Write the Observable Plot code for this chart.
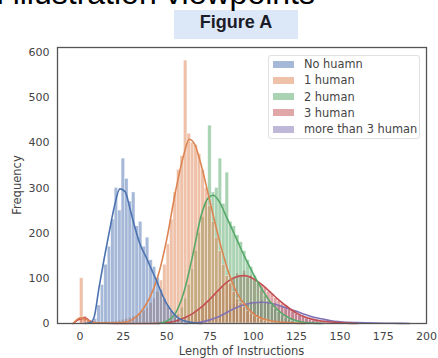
<!DOCTYPE html>
<html>
<head>
<meta charset="utf-8">
<script src="https://cdn.jsdelivr.net/npm/d3@7"></script>
<script src="https://cdn.jsdelivr.net/npm/@observablehq/plot@0.6"></script>
<style>
  html, body { margin: 0; padding: 0; background: #fff; }
  #wrap { position: relative; width: 438px; height: 358px; overflow: hidden; font-family: "DejaVu Sans", sans-serif; }
  #wrap svg { position: absolute; left: 0; top: 0; }
  .ov { position: absolute; white-space: nowrap; }
  #toptext { right: 123px; top: -23px; font: 32px/1 "Liberation Sans", Arial, sans-serif; color: #000; z-index: 2; }
  #fig { left: 174px; top: 10px; width: 124px; height: 29px; background: #dce8f7; font: bold 18px/25px "Liberation Sans", Arial, sans-serif; color: #1c1c28; text-align: center; z-index: 1; }
  #xlabel { left: 57px; width: 369px; top: 344px; text-align: center; font-size: 11.5px; color: #444; }
  #ylabel { left: 17px; top: 185px; transform: translate(-50%, -50%) rotate(-90deg); font-size: 11.5px; color: #444; }
  #legend { left: 268px; top: 55px; width: 150px; height: 82px; border: 1px solid #e0e0e0; border-radius: 3px; background: rgba(255,255,255,0.85); font-size: 11.4px; color: #444; }
  .row { position: absolute; left: 4px; height: 16px; display: flex; align-items: center; }
  .sw { width: 21px; height: 7px; margin-right: 10px; box-sizing: border-box; }
</style>
</head>
<body>
<div id="wrap">
  <div id="chart"></div>
  <div class="ov" id="fig">Figure A</div>
  <div class="ov" id="toptext">and illustration viewpoints</div>
  <div class="ov" id="xlabel">Length of Instructions</div>
  <div class="ov" id="ylabel">Frequency</div>
  <div class="ov" id="legend"></div>
</div>
<script>
const groups = ["No huamn", "1 human", "2 human", "3 human", "more than 3 human"];
const colors = ["#4c72b0", "#dd8452", "#55a868", "#c44e52", "#8172b3"];
const xTicks = [0, 25, 50, 75, 100, 125, 150, 175, 200];
const yTicks = [0, 100, 200, 300, 400, 500, 600];
const binWidth = 2;

// histogram counts (bins of width 2 starting at *Start)
const blueStart = 6;
const blueCounts = [3,10,40,85,130,170,230,300,250,365,320,270,290,215,225,170,190,140,125,100,75,55,40,28,18,10,5,2];
const orangeStart = 0;
const orangeCounts = [100,15,6,3,2,2,2,3,3,4,5,6,8,10,12,15,18,22,28,35,45,55,70,95,130,175,230,290,340,370,582,420,400,395,375,340,300,260,225,190,160,130,105,90,70,55,45,36,28,22,16,12,9,6,4,3];
const greenStart = 50;
const greenCounts = [3,6,12,20,35,55,85,120,160,200,235,270,438,290,300,365,265,334,225,215,195,180,160,140,125,105,90,75,62,50,40,32,25,18,13,9,6,4,3,2];
const redStart = 0;
const redCounts = [12,15,6,2,1,1,0,0,0,0,0,0,0,0,0,0,0,0,0,0,1,1,2,2,3,4,5,6,8,10,12,15,18,24,30,36,44,50,58,65,72,80,90,86,100,110,104,116,100,106,95,90,86,80,70,65,56,50,44,40,33,28,22,18,14,11,8,6,5,4,3,2,2,1,1,1];
const purpleStart = 70;
const purpleCounts = [2,3,5,8,11,15,22,30,40,42,45,40,46,44,48,45,47,50,44,46,42,45,40,38,32,30,26,24,20,18,15,13,11,9,8,7,6,5,4,3,3,2,2,2,1,1,1,1];

// KDE curves
const blueKdeX = [3,6,8,11,14,17,20,23,26,29,32,35,38,41,44,47,50,53,56,60,65,70];
const blueKdeY = [0,2,12,80,145,205,262,298,292,252,208,172,148,122,96,68,44,27,14,6,2,0];
const orangeKdeX = [-4,0,3,7,12,20,25,30,35,40,45,50,55,60,63,66,70,75,80,85,90,95,100,110,120,130];
const orangeKdeY = [0,12,10,3,1,1,2,8,25,55,105,185,290,375,408,398,350,270,190,122,72,42,22,6,2,0];
const greenKdeX = [45,50,55,60,65,70,74,77,80,85,90,95,100,105,110,115,120,125,130,140];
const greenKdeY = [0,5,22,70,150,240,278,284,272,232,190,148,110,76,47,27,14,6,2,0];
const redKdeX = [-4,0,3,6,10,20,40,50,55,60,65,70,75,80,85,90,95,100,105,110,115,120,125,130,140,150,160];
const redKdeY = [0,10,12,5,1,0,0,2,5,12,22,36,54,74,92,103,106,99,86,69,51,36,23,14,5,2,0];
const purpleKdeX = [60,65,70,75,80,85,90,95,100,105,110,115,120,125,130,135,140,145,150,160,170,180,190];
const purpleKdeY = [0,1,3,8,15,25,35,42,46,47,45,40,33,27,20,14,10,6,4,2,1,0.5,0];

const starts = [blueStart, orangeStart, greenStart, redStart, purpleStart];
const counts = [blueCounts, orangeCounts, greenCounts, redCounts, purpleCounts];
const kdeX = [blueKdeX, orangeKdeX, greenKdeX, redKdeX, purpleKdeX];
const kdeY = [blueKdeY, orangeKdeY, greenKdeY, redKdeY, purpleKdeY];

const marks = [];
for (let g = groups.length - 1; g >= 0; g--) {
  const bars = counts[g].map((c, i) => ({x1: starts[g] + i * binWidth, x2: starts[g] + (i + 1) * binWidth, y: c})).filter(d => d.y > 0);
  marks.push(Plot.rectY(bars, {x1: "x1", x2: "x2", y: "y", fill: colors[g], fillOpacity: 0.5, stroke: "white", strokeWidth: 0.5, strokeOpacity: 0.7}));
}
for (let g = groups.length - 1; g >= 0; g--) {
  const pts = kdeX[g].map((x, i) => ({x, y: kdeY[g][i]}));
  marks.push(Plot.line(pts, {x: "x", y: "y", stroke: colors[g], strokeWidth: 1.6, curve: "monotone-x"}));
}
marks.push(Plot.axisX({ticks: xTicks, tickSize: 0, tickPadding: 9, label: null, tickFormat: d => String(d)}));
marks.push(Plot.axisY({ticks: yTicks, tickSize: 0, tickPadding: 8, label: null, tickFormat: d => String(d)}));
marks.push(Plot.frame({stroke: "#555", strokeWidth: 1.3}));

const chart = Plot.plot({
  width: 438,
  height: 358,
  marginTop: 47,
  marginRight: 12,
  marginBottom: 35,
  marginLeft: 57,
  x: {domain: [-13, 200]},
  y: {domain: [0, 611]},
  style: {fontFamily: "DejaVu Sans, sans-serif", fontSize: "11px", color: "#444", background: "transparent", overflow: "visible"},
  marks
});
document.getElementById("chart").appendChild(chart);

const legend = document.getElementById("legend");
groups.forEach((name, i) => {
  const row = document.createElement("div");
  row.className = "row";
  row.style.top = (0 + i * 16.3) + "px";
  const sw = document.createElement("div");
  sw.className = "sw";
  sw.style.background = colors[i];
  sw.style.opacity = 0.5;
  const t = document.createElement("span");
  t.textContent = name;
  row.appendChild(sw);
  row.appendChild(t);
  legend.appendChild(row);
});
</script>
</body>
</html>
